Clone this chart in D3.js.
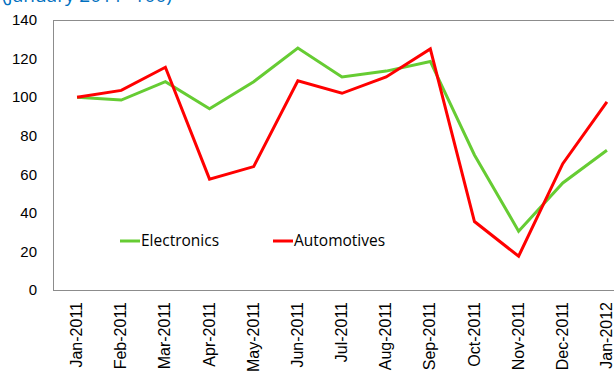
<!DOCTYPE html>
<html>
<head>
<meta charset="utf-8">
<script src="https://cdn.jsdelivr.net/npm/d3@7"></script>
<style>
  body { margin: 0; background: #fff; }
  svg { display: block; font-family: 'Open Sans', 'Noto Sans', sans-serif; }
</style>
</head>
<body>
<div id="canvas"></div>
<script>
const months = ['Jan-2011', 'Feb-2011', 'Mar-2011', 'Apr-2011', 'May-2011', 'Jun-2011', 'Jul-2011',
                'Aug-2011', 'Sep-2011', 'Oct-2011', 'Nov-2011', 'Dec-2011', 'Jan-2012'];
const electronics = [100, 98.5, 108, 94, 108, 125.5, 110.5, 113.5, 118.5, 70, 30.5, 55.5, 72.5];
const automotives = [100, 103.5, 115.5, 57.5, 64, 108.5, 102, 110.5, 125, 35.5, 17.5, 65.5, 97.5];
const yTicks = [0, 20, 40, 60, 80, 100, 120, 140];

const w = 614;
const h = 371;

const svg = d3.select('#canvas')
              .append('svg')
              .attr('width', w)
              .attr('height', h);

const x = d3.scalePoint()
            .domain(months)
            .range([55, 629])
            .padding(0.5);

const y = d3.scaleLinear()
            .domain([0, 140])
            .range([290, 20]);

// title, mostly cut off by the top edge
svg.append('text')
   .attr('x', 2)
   .attr('y', 2)
   .attr('fill', '#0070c0')
   .style('font-size', '19px')
   .text('(January 2011=100)');

// plot area border
svg.append('rect')
   .attr('x', x.range()[0] - 1.5)
   .attr('y', y(140) + 0.5)
   .attr('width', 600)
   .attr('height', y(0) - y(140))
   .attr('fill', 'none')
   .attr('stroke', '#8c8c8c')
   .attr('stroke-width', 1);

const yAxis = svg.append('g')
   .attr('transform', 'translate(' + (x.range()[0] - 2) + ',0)')
   .call(d3.axisLeft(y).tickValues(yTicks).tickSize(0).tickPadding(16));
yAxis.select('.domain').remove();
yAxis.selectAll('text').style('font-size', '15px').attr('fill', '#000');

const xAxis = svg.append('g')
   .attr('transform', 'translate(0,' + y(0) + ')')
   .call(d3.axisBottom(x).tickSize(0));
xAxis.select('.domain').remove();
xAxis.selectAll('text')
     .style('font-size', '16px')
     .attr('fill', '#000')
     .attr('text-anchor', 'end')
     .attr('transform', 'rotate(-90)')
     .attr('x', -12)
     .attr('y', -1)
     .attr('dy', '0.35em');

const line = d3.line()
               .x((d, i) => x(months[i]))
               .y(d => y(d));

const series = [
  { name: 'Electronics', values: electronics, color: '#66cc33' },
  { name: 'Automotives', values: automotives, color: '#ff0000' }
];

svg.append('g')
   .selectAll('path')
   .data(series)
   .enter()
   .append('path')
   .attr('d', d => line(d.values))
   .attr('fill', 'none')
   .attr('stroke', d => d.color)
   .attr('stroke-width', 3)
   .attr('stroke-linejoin', 'miter');

const legend = svg.append('g')
   .selectAll('g')
   .data(series)
   .enter()
   .append('g')
   .attr('transform', (d, i) => 'translate(' + (120 + i * 153) + ',241)');

legend.append('line')
      .attr('x1', 0)
      .attr('x2', 20)
      .attr('stroke', d => d.color)
      .attr('stroke-width', 3);

legend.append('text')
      .attr('x', 21)
      .attr('dy', '0.35em')
      .style('font-size', '15.5px')
      .text(d => d.name);
</script>
</body>
</html>
